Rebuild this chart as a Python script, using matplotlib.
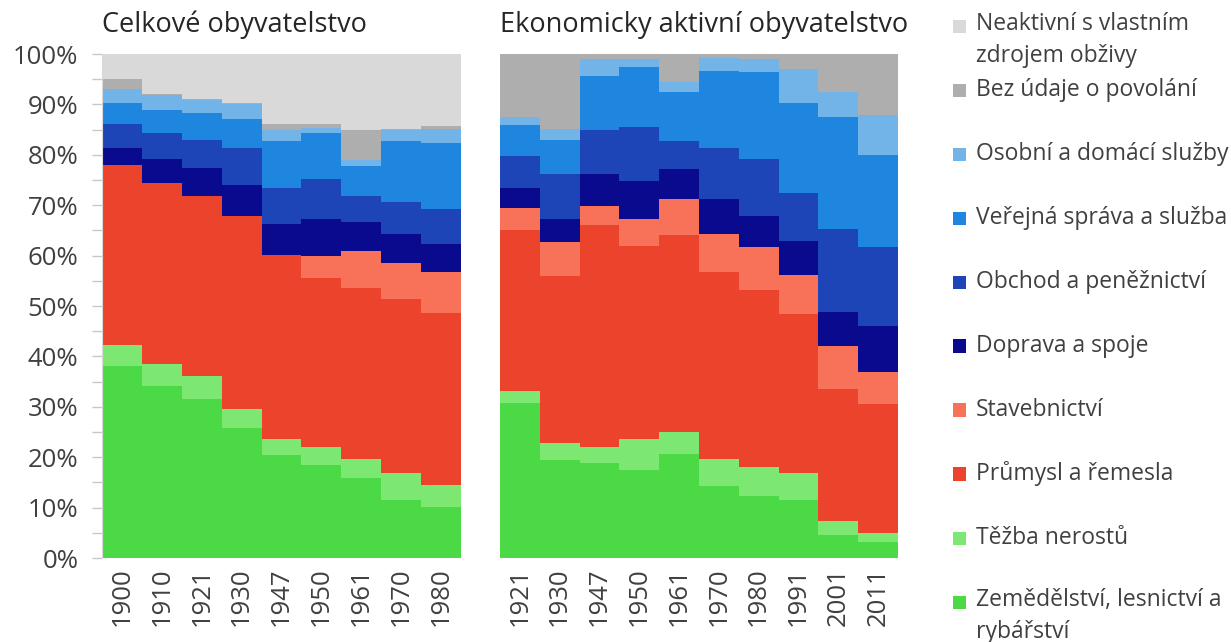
import matplotlib
matplotlib.use("Agg")
import matplotlib.pyplot as plt
from matplotlib.patches import Rectangle
from matplotlib.ticker import MultipleLocator, FuncFormatter
import numpy as np

plt.rcParams['font.family'] = ['Open Sans', 'DejaVu Sans']

# ---------------- data ----------------
categories = [
    "Zemědělství, lesnictví a\nrybářství",
    "Těžba nerostů",
    "Průmysl a řemesla",
    "Stavebnictví",
    "Doprava a spoje",
    "Obchod a peněžnictví",
    "Veřejná správa a služba",
    "Osobní a domácí služby",
    "Bez údaje o povolání",
    "Neaktivní s vlastním\nzdrojem obživy",
]
colors = ["#4CD946", "#7DE871", "#EC432D", "#F8725A", "#0A0A8F",
          "#1E45B8", "#1F86E0", "#72B3E8", "#AEAEAE", "#D9D9D9"]

total_years = ["1900", "1910", "1921", "1930", "1947", "1950", "1961", "1970", "1980"]
total_zem    = [38.1, 34.2, 31.5, 25.7, 20.5, 18.5, 15.8, 11.6, 10.2]
total_tezba  = [4.2, 4.3, 4.6, 3.8, 3.2, 3.5, 3.9, 5.2, 4.3]
total_prumysl = [35.7, 36.0, 35.7, 38.4, 36.4, 33.5, 33.8, 34.5, 34.1]
total_stav   = [0.0, 0.0, 0.0, 0.0, 0.0, 4.5, 7.5, 7.2, 8.2]
total_doprava = [3.3, 4.6, 5.5, 6.2, 6.2, 7.3, 5.7, 5.8, 5.5]
total_obchod = [4.9, 5.2, 5.7, 7.2, 7.2, 7.8, 5.2, 6.3, 7.0]
total_verejna = [4.0, 4.6, 5.2, 5.9, 9.2, 9.2, 5.8, 12.1, 13.0]
total_osobni = [2.9, 3.0, 2.6, 2.8, 2.3, 1.0, 1.3, 2.3, 2.9]
total_bez    = [2.0, 0.2, 0.3, 0.3, 1.2, 0.9, 6.0, 0.2, 0.5]
total_neakt  = [4.9, 7.9, 8.9, 9.7, 13.8, 13.8, 15.0, 14.8, 14.3]

active_years = ["1921", "1930", "1947", "1950", "1961", "1970", "1980", "1991", "2001", "2011"]
active_zem    = [30.7, 19.5, 18.9, 17.5, 20.7, 14.2, 12.3, 11.6, 4.5, 3.1]
active_tezba  = [2.5, 3.3, 3.2, 6.2, 4.3, 5.5, 5.8, 5.2, 2.8, 1.9]
active_prumysl = [31.8, 33.1, 43.9, 38.3, 39.0, 37.1, 35.1, 31.7, 26.2, 25.5]
active_stav   = [4.5, 6.8, 3.9, 5.2, 7.2, 7.4, 8.5, 7.6, 8.5, 6.5]
active_doprava = [4.0, 4.6, 6.2, 7.7, 5.9, 7.0, 6.2, 6.8, 6.9, 9.0]
active_obchod = [6.2, 8.9, 8.9, 10.7, 5.6, 10.1, 11.2, 9.6, 16.4, 15.7]
active_verejna = [6.3, 6.8, 10.7, 11.8, 9.8, 15.4, 17.3, 17.7, 22.2, 18.3]
active_osobni = [1.5, 2.2, 3.3, 1.6, 2.0, 2.6, 2.6, 6.9, 5.0, 7.9]
active_bez    = [12.5, 14.8, 1.0, 1.0, 5.5, 0.7, 1.0, 2.9, 7.5, 12.1]
active_neakt  = [0.0] * 10

total_series = [total_zem, total_tezba, total_prumysl, total_stav, total_doprava,
                total_obchod, total_verejna, total_osobni, total_bez, total_neakt]
active_series = [active_zem, active_tezba, active_prumysl, active_stav, active_doprava,
                 active_obchod, active_verejna, active_osobni, active_bez, active_neakt]

# ---------------- figure ----------------
W, H = 1231, 642
fig = plt.figure(figsize=(W / 100, H / 100), dpi=100)

def fx(px):
    return px / W

def fy(py):
    return 1 - py / H

top_px, bot_px = 54, 558
ax1 = fig.add_axes([fx(102), fy(bot_px), fx(461 - 102), fy(top_px) - fy(bot_px)])
ax2 = fig.add_axes([fx(500), fy(bot_px), fx(898 - 500), fy(top_px) - fy(bot_px)])

text_color = "#404040"
tick_fs = 18.5

def draw(ax, years, series):
    x = np.arange(len(years))
    bottom = np.zeros(len(years))
    for vals, c in zip(series, colors):
        v = np.array(vals, dtype=float)
        ax.bar(x, v, bottom=bottom, width=1.0, color=c, edgecolor="none", linewidth=0)
        bottom += v
    ax.set_xlim(-0.5, len(years) - 0.5)
    ax.set_ylim(0, 100)
    ax.set_xticks(x)
    ax.set_xticklabels(years, rotation=90, fontsize=tick_fs, color=text_color)
    ax.tick_params(axis="x", length=0, pad=7)
    for s in ax.spines.values():
        s.set_visible(False)

draw(ax1, total_years, total_series)
draw(ax2, active_years, active_series)

ax1.yaxis.set_major_locator(MultipleLocator(10))
ax1.yaxis.set_minor_locator(MultipleLocator(5))
ax1.yaxis.set_major_formatter(FuncFormatter(lambda v, p: f"{int(round(v))}%"))
ax1.tick_params(axis="y", which="both", length=7, color="#C8C8C8", width=1,
                labelsize=tick_fs, labelcolor=text_color, pad=10)
ax1.spines["left"].set_visible(True)
ax1.spines["left"].set_color("#D9D9D9")

ax2.set_yticks([])

fig.text(fx(102), fy(25), "Celkové obyvatelstvo", fontsize=19.5, color="#262626",
         ha="left", va="center")
fig.text(fx(500), fy(25), "Ekonomicky aktivní obyvatelstvo", fontsize=19.5, color="#262626",
         ha="left", va="center")

# ---------------- legend ----------------
leg_fs = 16.5
legend_order = list(range(len(categories)))[::-1]
for i, k in enumerate(legend_order):
    y = 26 + 64.0 * i
    fig.add_artist(Rectangle((fx(953), fy(y + 6.5)), fx(13), fy(y - 6.5) - fy(y + 6.5),
                             transform=fig.transFigure, facecolor=colors[k],
                             edgecolor="none"))
    if "\n" in categories[k]:
        fig.text(fx(976), fy(y + 14), categories[k], fontsize=leg_fs, color=text_color,
                 ha="left", va="center", linespacing=1.45)
    else:
        fig.text(fx(976), fy(y), categories[k], fontsize=leg_fs, color=text_color,
                 ha="left", va="center")

fig.savefig("out.png", dpi=100)
